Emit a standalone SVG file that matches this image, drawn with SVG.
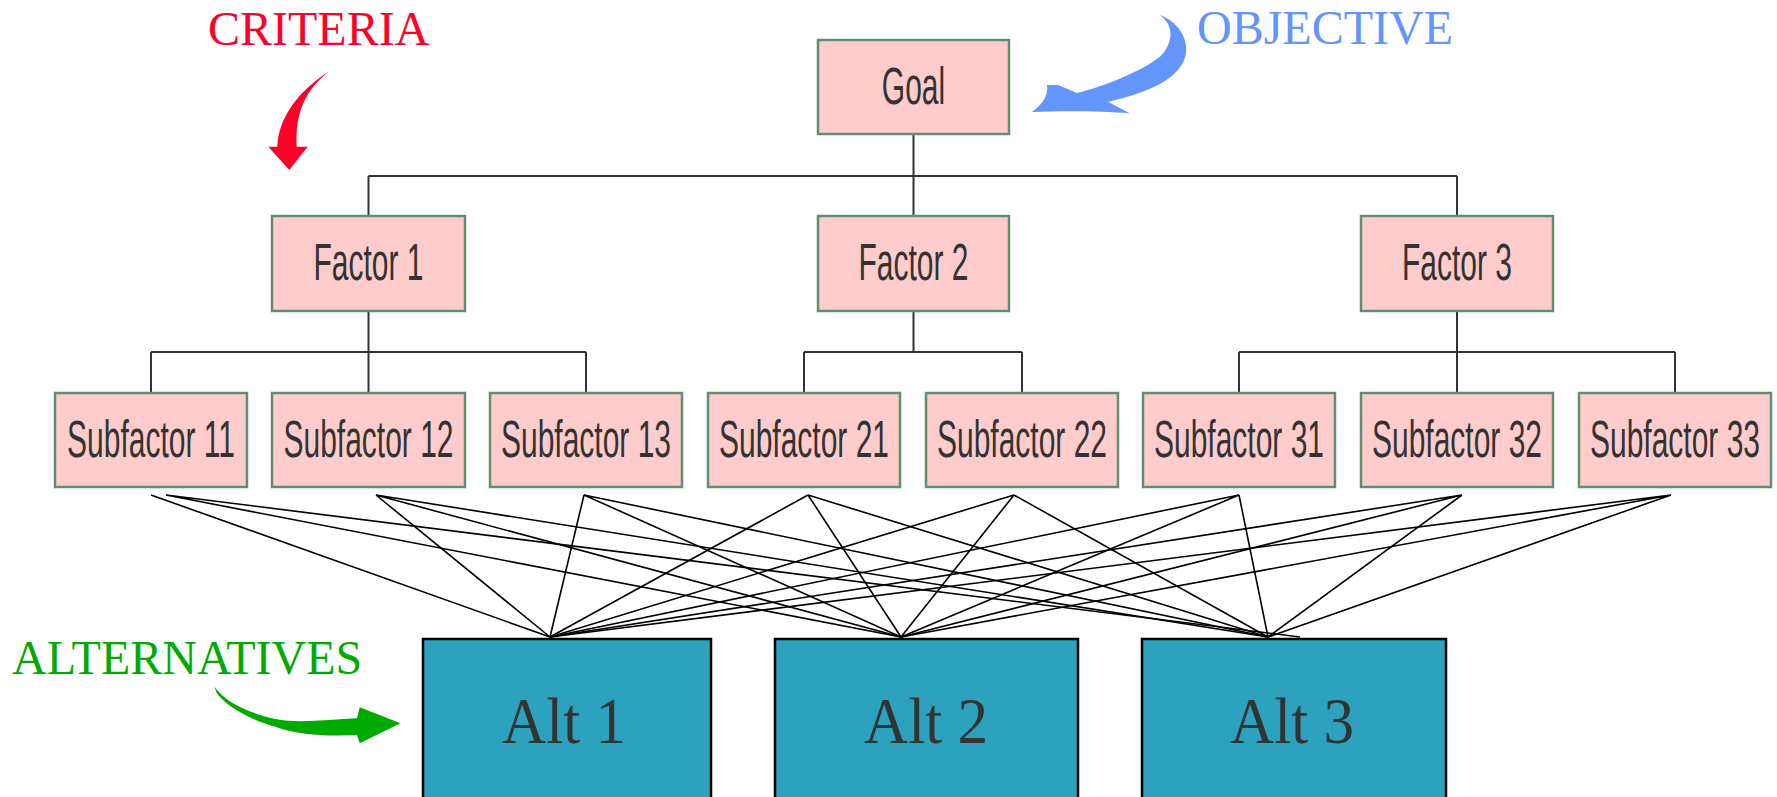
<svg xmlns="http://www.w3.org/2000/svg" width="1777" height="797" viewBox="0 0 1777 797">
  <style>
    .box { fill: #ffcccc; stroke: #5f8f6f; stroke-width: 2.5; }
    .alt { fill: #2ca2be; stroke: #000; stroke-width: 2.5; }
    .lbl { font-family: "Liberation Sans", Arial, sans-serif; font-size: 51px; fill: #333; text-anchor: middle; }
    .altlbl { font-family: "Liberation Serif", "Times New Roman", serif; font-size: 65px; fill: #333; text-anchor: middle; }
    .note { font-family: "Liberation Serif", "Times New Roman", serif; font-size: 48px; }
    .tree { fill: none; stroke: #333; stroke-width: 2; }
    .fan { fill: none; stroke: #000; stroke-width: 1.6; }
  </style>

  <rect width="1777" height="797" fill="#fff"/>

  <!-- hierarchy connectors -->
  <g id="connectors">
    <g class="tree">
      <path d="M913.5 134 V176 M368.5 176 H1457 M368.5 176 V216 M913.5 176 V216 M1457 176 V216"/>
      <path d="M368.5 311 V352 M151 352 H586 M151 352 V393 M368.5 352 V393 M586 352 V393"/>
      <path d="M913.5 311 V352 M804 352 H1022 M804 352 V393 M1022 352 V393"/>
      <path d="M1457 311 V352 M1239 352 H1675 M1239 352 V393 M1457 352 V393 M1675 352 V393"/>
    </g>
    <g class="fan">
      <path d="M151 495 L550 637 M166 495 L901 637 M166 495 L1300 637"/>
      <path d="M376 495 L550 637 M376 495 L901 637 M376 495 L1268 637"/>
      <path d="M584 495 L550 637 M584 495 L901 637 M584 495 L1268 637"/>
      <path d="M808 495 L550 637 M808 495 L901 637 M808 495 L1268 637"/>
      <path d="M1014 495 L550 637 M1014 495 L901 637 M1014 495 L1268 637"/>
      <path d="M1239 495 L550 637 M1239 495 L901 637 M1239 495 L1268 637"/>
      <path d="M1462 495 L550 637 M1462 495 L901 637 M1462 495 L1268 637"/>
      <path d="M1671 495 L550 637 M1671 495 L901 637 M1671 495 L1268 637"/>
    </g>
  </g>

  <!-- goal -->
  <g id="goal">
    <rect class="box" x="818" y="40" width="191" height="94"/>
    <text class="lbl" transform="translate(913.5 104) scale(0.588 1)">Goal</text>
  </g>

  <!-- factors -->
  <g id="factor1">
    <rect class="box" x="272" y="216" width="193" height="95"/>
    <text class="lbl" transform="translate(368.5 280) scale(0.588 1)">Factor 1</text>
  </g>
  <g id="factor2">
    <rect class="box" x="818" y="216" width="191" height="95"/>
    <text class="lbl" transform="translate(913.5 280) scale(0.588 1)">Factor 2</text>
  </g>
  <g id="factor3">
    <rect class="box" x="1361" y="216" width="192" height="95"/>
    <text class="lbl" transform="translate(1457 280) scale(0.588 1)">Factor 3</text>
  </g>

  <!-- subfactors -->
  <g id="sub11">
    <rect class="box" x="55" y="393" width="192" height="94"/>
    <text class="lbl" transform="translate(151 457) scale(0.588 1)">Subfactor 11</text>
  </g>
  <g id="sub12">
    <rect class="box" x="272" y="393" width="193" height="94"/>
    <text class="lbl" transform="translate(368.5 457) scale(0.588 1)">Subfactor 12</text>
  </g>
  <g id="sub13">
    <rect class="box" x="490" y="393" width="192" height="94"/>
    <text class="lbl" transform="translate(586 457) scale(0.588 1)">Subfactor 13</text>
  </g>
  <g id="sub21">
    <rect class="box" x="708" y="393" width="192" height="94"/>
    <text class="lbl" transform="translate(804 457) scale(0.588 1)">Subfactor 21</text>
  </g>
  <g id="sub22">
    <rect class="box" x="926" y="393" width="192" height="94"/>
    <text class="lbl" transform="translate(1022 457) scale(0.588 1)">Subfactor 22</text>
  </g>
  <g id="sub31">
    <rect class="box" x="1143" y="393" width="192" height="94"/>
    <text class="lbl" transform="translate(1239 457) scale(0.588 1)">Subfactor 31</text>
  </g>
  <g id="sub32">
    <rect class="box" x="1361" y="393" width="192" height="94"/>
    <text class="lbl" transform="translate(1457 457) scale(0.588 1)">Subfactor 32</text>
  </g>
  <g id="sub33">
    <rect class="box" x="1579" y="393" width="192" height="94"/>
    <text class="lbl" transform="translate(1675 457) scale(0.588 1)">Subfactor 33</text>
  </g>

  <!-- alternatives -->
  <g id="alt1">
    <rect class="alt" x="423" y="639" width="288" height="170"/>
    <text class="altlbl" transform="translate(564 743) scale(0.94 1)">Alt 1</text>
  </g>
  <g id="alt2">
    <rect class="alt" x="775" y="639" width="303" height="170"/>
    <text class="altlbl" transform="translate(926 743) scale(0.94 1)">Alt 2</text>
  </g>
  <g id="alt3">
    <rect class="alt" x="1142" y="639" width="304" height="170"/>
    <text class="altlbl" transform="translate(1292 743) scale(0.94 1)">Alt 3</text>
  </g>

  <!-- annotations -->
  <g id="criteria">
    <text class="note" x="208" y="45" fill="#ff0028">CRITERIA</text>
    <path fill="#ff0028" d="M328.3 71.7 C300 90 278.3 116.7 277.3 146.7 L268.3 146.7 L289.3 170 L307.7 146.7 L296.7 146.7 C295 110 306.7 90 328.3 71.7 Z"/>
  </g>
  <g id="objective">
    <text class="note" x="1197" y="44" fill="#6495fa">OBJECTIVE</text>
    <path fill="#6495fa" d="M1160 15 C1177 21.7 1188 36.7 1186 53.3 C1184 66 1173 80 1147 90 C1135 95 1120 99 1108 101.7 L1129.6 113.3 C1100 110.7 1060 110.7 1032 112 C1040 106 1049 97 1047 85 L1058 85 L1077 93 C1105 86 1140 72 1160 56.7 C1173 44 1175 26 1160 15 Z"/>
  </g>
  <g id="alternatives">
    <text class="note" x="12" y="674" fill="#00aa00">ALTERNATIVES</text>
    <path fill="#00aa00" d="M214.3 686.7 C226 702 245 712 275.5 719 C300 724 330 719 357 718.3 L359.7 707.3 L400.5 723.3 L359.7 743.3 L357 735 C330 736 300 736 275.5 726.7 C250 720 226 706 216.8 693.3 Z"/>
  </g>
</svg>
